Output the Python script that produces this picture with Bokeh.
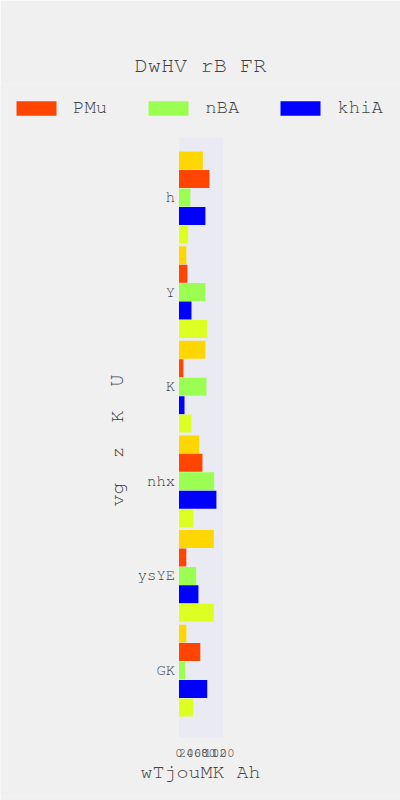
from bokeh.plotting import figure
from bokeh.models import Range1d, FixedTicker, Legend, LegendItem, Title, BoxAnnotation
from bokeh.embed import file_html
from bokeh.resources import INLINE

categories = ["h", "Y", "K", "nhx", "ysYE", "GK"]
gold_vals = [65, 20, 72, 55, 95, 20]
pmu_vals = [83, 23, 12, 64, 20, 58]
nba_vals = [31, 72, 75, 96, 47, 17]
khia_vals = [72, 34, 15, 102, 53, 77]
yg_vals = [25, 77, 34, 39, 95, 39]
x_ticks = [0, 20, 40, 60, 80, 100, 120]

FONT = "Nimbus Mono PS, FreeMono, Courier, Courier New, monospace"
TXT = "#444444"
BG = "#F0F0F0"

n = len(categories)
base = [n - 1 - i for i in range(n)]

# plot-area extents in data units
X_MAX = 120
Y_LO, Y_HI = -0.708, 5.634

# the frame spans the whole canvas so the legend is not clipped;
# the visible plot area (0..X_MAX, Y_LO..Y_HI) sits inside it
PX_PER_UNIT = 44.0 / X_MAX
x_start = -178.5 / PX_PER_UNIT
x_end = x_start + 400 / PX_PER_UNIT
PX_PER_Y = 600.0 / (Y_HI - Y_LO)
y_top = Y_HI + 53 / PX_PER_Y
y_bottom = Y_LO - 59 / PX_PER_Y

p = figure(width=400, height=800, output_backend="svg", toolbar_location=None,
           x_range=Range1d(x_start, x_end), y_range=Range1d(y_bottom, y_top),
           min_border_left=0, min_border_right=0, min_border_top=84,
           min_border_bottom=4, title=None)
p.background_fill_color = BG
p.border_fill_color = BG
p.outline_line_color = None

p.add_layout(BoxAnnotation(left=0, right=X_MAX, bottom=Y_LO, top=Y_HI,
                           fill_color="#EAEAF2", fill_alpha=1.0,
                           line_color=None, level="underlay"))

series = [
    (gold_vals, "#FFD700", 0.39, None),
    (pmu_vals, "#FF4500", 0.195, "PMu"),
    (nba_vals, "#9BFF52", 0.0, "nBA"),
    (khia_vals, "#0000FF", -0.195, "khiA"),
    (yg_vals, "#DDFF22", -0.39, None),
]
items = []
for vals, color, off, name in series:
    r = p.hbar(y=[b + off for b in base], right=vals, left=0, height=0.19,
               fill_color=color, line_color=None)
    if name:
        items.append(LegendItem(label=name, renderers=[r]))

legend = Legend(items=items, orientation="horizontal", location=(11, 679),
                glyph_width=50, glyph_height=18, label_standoff=12,
                spacing=36, padding=0, margin=0, border_line_color=None,
                background_fill_alpha=0, label_text_font=FONT,
                label_text_font_size="19px", label_text_color=TXT,
                label_width=34, label_height=18)
p.add_layout(legend, "center")

p.add_layout(Title(text="DwHV rB FR", align="center", text_font=FONT,
                   text_font_size="22px", text_font_style="normal",
                   text_color=TXT, standoff=18), "above")

p.xgrid.visible = False
p.ygrid.visible = False

p.xaxis.ticker = FixedTicker(ticks=x_ticks)
p.xaxis.fixed_location = Y_LO
p.yaxis.ticker = FixedTicker(ticks=base)
p.yaxis.major_label_overrides = {b: c for b, c in zip(base, categories)}
p.yaxis.fixed_location = 0

for ax in (p.xaxis[0], p.yaxis[0]):
    ax.axis_line_color = None
    ax.major_tick_line_color = None
    ax.minor_tick_line_color = None
    ax.major_tick_out = 0
    ax.major_tick_in = 0
    ax.major_label_text_font = FONT
    ax.major_label_text_color = TXT
    ax.axis_label_text_font = FONT
    ax.axis_label_text_font_style = "normal"
    ax.axis_label_text_color = TXT
    ax.axis_label_text_font_size = "20px"

p.xaxis.axis_label = "wTjouMK Ah"
p.xaxis.major_label_text_font_size = "13px"
p.xaxis.major_label_standoff = 11
p.xaxis.axis_label_standoff = 2
p.yaxis.axis_label = "vg \u00a0z \u00a0K \u00a0U"
p.yaxis.major_label_text_font_size = "15.5px"
p.yaxis.major_label_standoff = 4
p.yaxis.axis_label_standoff = 8

open("out.html", "w").write(file_html(p, INLINE))
